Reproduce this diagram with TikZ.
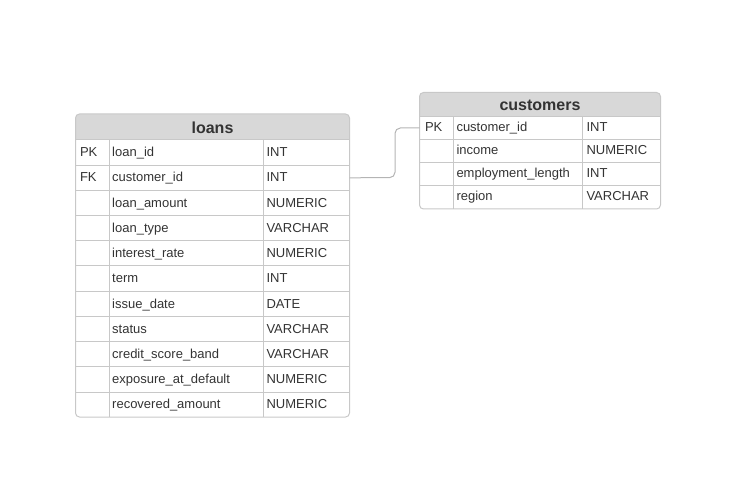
\documentclass[tikz,border=0pt]{standalone}
\usepackage{fontspec}
\setmainfont{Liberation Sans}
\definecolor{mygridgray}{RGB}{200, 200, 200}
\definecolor{myheadgray}{RGB}{216, 216, 216}
\definecolor{mytextgray}{RGB}{51, 51, 51}
\definecolor{mylinkgray}{RGB}{180, 180, 180}
\tikzset{every picture/.style={line width=0.75pt}}
\tikzset{
  tblborder/.style={draw=mygridgray, rounded corners=3},
  tblhead/.style={font=\fontsize{12}{14}\selectfont\bfseries, text=mytextgray},
  tblcell/.style={anchor=base west, inner sep=0pt, font=\fontsize{9.75}{12}\selectfont, text=mytextgray},
  tblrow/.style={inner sep=0pt, outer sep=0pt, draw=none},
  fklink/.style={draw=mylinkgray, rounded corners=4}
}

\begin{document}
\begin{tikzpicture}[x=0.75pt,y=0.75pt,yscale=-1,xscale=1]
\useasboundingbox (0,0) rectangle (735,488);

%Table: loans
\begin{scope}
\clip[rounded corners=3] (75.5,114) rectangle (349.5,417);
\fill[myheadgray] (75.5,114) rectangle (349.5,140);
\end{scope}
\node[tblhead] (loans) at (212.5,127.5) {loans};
\foreach \k/\nm/\ty in {1/loan\_id/INT, 2/customer\_id/INT, 3/loan\_amount/NUMERIC,
  4/loan\_type/VARCHAR, 5/interest\_rate/NUMERIC, 6/term/INT, 7/issue\_date/DATE,
  8/status/VARCHAR, 9/credit\_score\_band/VARCHAR, 10/exposure\_at\_default/NUMERIC,
  11/recovered\_amount/NUMERIC}{
  \node[tblrow, minimum width=205.5pt, minimum height=18.9pt] (loans-\k) at (212.5,127.4+25.2*\k) {};
  \node[tblcell] (loans-\k-name) at (111.7,131.6+25.2*\k) {\nm};
  \node[tblcell] (loans-\k-type) at (266,131.6+25.2*\k) {\ty};
  \draw[mygridgray] (75.5,114.8+25.2*\k) -- (349.5,114.8+25.2*\k);
}
\node[tblcell] (loans-pk) at (79.5,156.8) {PK};
\node[tblcell] (loans-fk) at (79.5,182) {FK};
\draw[mygridgray] (109.3,140) -- (109.3,417);
\draw[mygridgray] (263.3,140) -- (263.3,417);
\draw[tblborder] (75.5,114) rectangle (349.5,417);

%Table: customers
\begin{scope}
\clip[rounded corners=3] (419.5,92.5) rectangle (660.5,209);
\fill[myheadgray] (419.5,92.5) rectangle (660.5,116.5);
\end{scope}
\node[tblhead] (customers) at (540,105.3) {customers};
\foreach \k/\nm/\ty in {1/customer\_id/INT, 2/income/NUMERIC,
  3/employment\_length/INT, 4/region/VARCHAR}{
  \node[tblrow, minimum width=180.75pt, minimum height=17.25pt] (cust-\k) at (540,105+23*\k) {};
  \node[tblcell] (cust-\k-name) at (456,109+23*\k) {\nm};
  \node[tblcell] (cust-\k-type) at (586,109+23*\k) {\ty};
  \draw[mygridgray] (419.5,93.5+23*\k) -- (660.5,93.5+23*\k);
}
\node[tblcell] (cust-pk) at (424.5,132) {PK};
\draw[mygridgray] (453.3,116.5) -- (453.3,209);
\draw[mygridgray] (582.7,116.5) -- (582.7,209);
\draw[tblborder] (419.5,92.5) rectangle (660.5,209);

%Connector: loans.customer_id -> customers.customer_id
\draw[fklink] (loans-2.east) -- (395,177.6) |- (cust-1.west);
\end{tikzpicture}
\end{document}
